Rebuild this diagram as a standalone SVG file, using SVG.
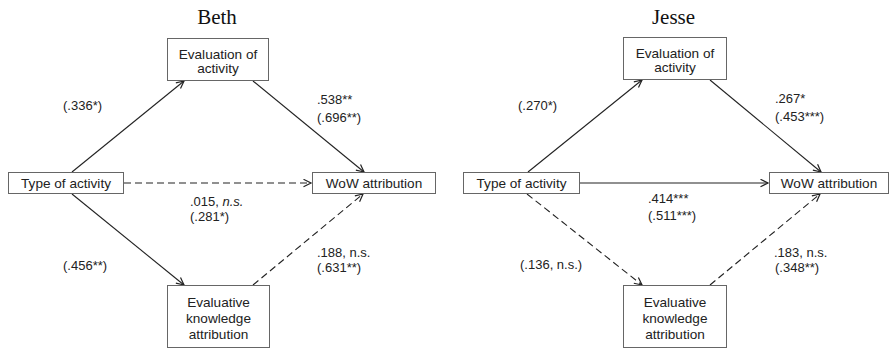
<svg xmlns="http://www.w3.org/2000/svg" width="891" height="349" viewBox="0 0 891 349">
  <style>
    .box { fill: #fff; stroke: #666; stroke-width: 1; }
    .lbl { font-family: "Liberation Sans", Arial, sans-serif; font-size: 13.6px; fill: #222; text-anchor: middle; }
    .num { font-family: "Liberation Sans", Arial, sans-serif; font-size: 13px; fill: #222; }
    .title { font-family: "Liberation Serif", "Times New Roman", serif; font-size: 21px; fill: #111; text-anchor: middle; }
    .edge { fill: none; stroke: #222; stroke-width: 1.1; marker-end: url(#arrow); }
    .dash { stroke-dasharray: 7 4; }
  </style>
  <defs>
    <marker id="arrow" markerUnits="userSpaceOnUse" markerWidth="10" markerHeight="10" refX="8.5" refY="4.5" orient="auto">
      <path d="M1,0.8 L8.5,4.5 L1,8.2" fill="none" stroke="#222" stroke-width="1.2" stroke-dasharray="none"/>
    </marker>
  </defs>

  <rect width="891" height="349" fill="#fff"/>

  <!-- panel titles -->
  <text class="title" x="217" y="24">Beth</text>
  <text class="title" x="673.5" y="24">Jesse</text>

  <!-- connectors -->
  <g id="connectors">
    <!-- Beth -->
    <line class="edge" x1="72" y1="172" x2="184" y2="81"/>
    <line class="edge" x1="253" y1="81" x2="364" y2="172"/>
    <line class="edge dash" x1="124" y1="183" x2="311" y2="183"/>
    <line class="edge" x1="72" y1="194" x2="184" y2="285"/>
    <line class="edge dash" x1="253" y1="285" x2="363" y2="194"/>
    <!-- Jesse -->
    <line class="edge" x1="528" y1="172" x2="642" y2="80"/>
    <line class="edge" x1="710" y1="80" x2="821" y2="172"/>
    <line class="edge" x1="580" y1="183" x2="768" y2="183"/>
    <line class="edge dash" x1="527" y1="194" x2="642" y2="285"/>
    <line class="edge dash" x1="710" y1="285" x2="820" y2="194"/>
  </g>

  <!-- path coefficients -->
  <g id="coefficients">
    <text class="num" x="63" y="110">(.336*)</text>
    <text class="num" x="317" y="104">.538**</text>
    <text class="num" x="317" y="122">(.696**)</text>
    <text class="num" x="190" y="206">.015, <tspan font-style="italic">n.s.</tspan></text>
    <text class="num" x="190" y="221">(.281*)</text>
    <text class="num" x="63" y="270">(.456**)</text>
    <text class="num" x="317" y="257">.188, n.s.</text>
    <text class="num" x="317" y="272">(.631**)</text>

    <text class="num" x="518" y="110">(.270*)</text>
    <text class="num" x="775" y="103">.267*</text>
    <text class="num" x="775" y="121">(.453***)</text>
    <text class="num" x="648" y="203">.414***</text>
    <text class="num" x="648" y="220">(.511***)</text>
    <text class="num" x="520" y="269">(.136, n.s.)</text>
    <text class="num" x="774" y="257">.183, n.s.</text>
    <text class="num" x="775" y="272">(.348**)</text>
  </g>

  <!-- Beth nodes -->
  <g id="beth-evaluation">
    <rect class="box" x="167.5" y="38.5" width="101" height="42"/>
    <text class="lbl" x="218" y="59">Evaluation of</text>
    <text class="lbl" x="218" y="73">activity</text>
  </g>
  <g id="beth-type">
    <rect class="box" x="8.5" y="172.5" width="115" height="21"/>
    <text class="lbl" x="66" y="188">Type of activity</text>
  </g>
  <g id="beth-wow">
    <rect class="box" x="312.5" y="172.5" width="123" height="21"/>
    <text class="lbl" x="374" y="188">WoW attribution</text>
  </g>
  <g id="beth-knowledge">
    <rect class="box" x="167.5" y="285.5" width="102" height="62"/>
    <text class="lbl" x="218.5" y="307">Evaluative</text>
    <text class="lbl" x="218.5" y="323">knowledge</text>
    <text class="lbl" x="218.5" y="339">attribution</text>
  </g>

  <!-- Jesse nodes -->
  <g id="jesse-evaluation">
    <rect class="box" x="623.5" y="37.5" width="103" height="42"/>
    <text class="lbl" x="675" y="58">Evaluation of</text>
    <text class="lbl" x="675" y="72">activity</text>
  </g>
  <g id="jesse-type">
    <rect class="box" x="463.5" y="172.5" width="116" height="21"/>
    <text class="lbl" x="521.5" y="188">Type of activity</text>
  </g>
  <g id="jesse-wow">
    <rect class="box" x="769.5" y="172.5" width="119" height="21"/>
    <text class="lbl" x="829" y="188">WoW attribution</text>
  </g>
  <g id="jesse-knowledge">
    <rect class="box" x="623.5" y="285.5" width="103" height="62"/>
    <text class="lbl" x="675" y="307">Evaluative</text>
    <text class="lbl" x="675" y="323">knowledge</text>
    <text class="lbl" x="675" y="339">attribution</text>
  </g>
</svg>
